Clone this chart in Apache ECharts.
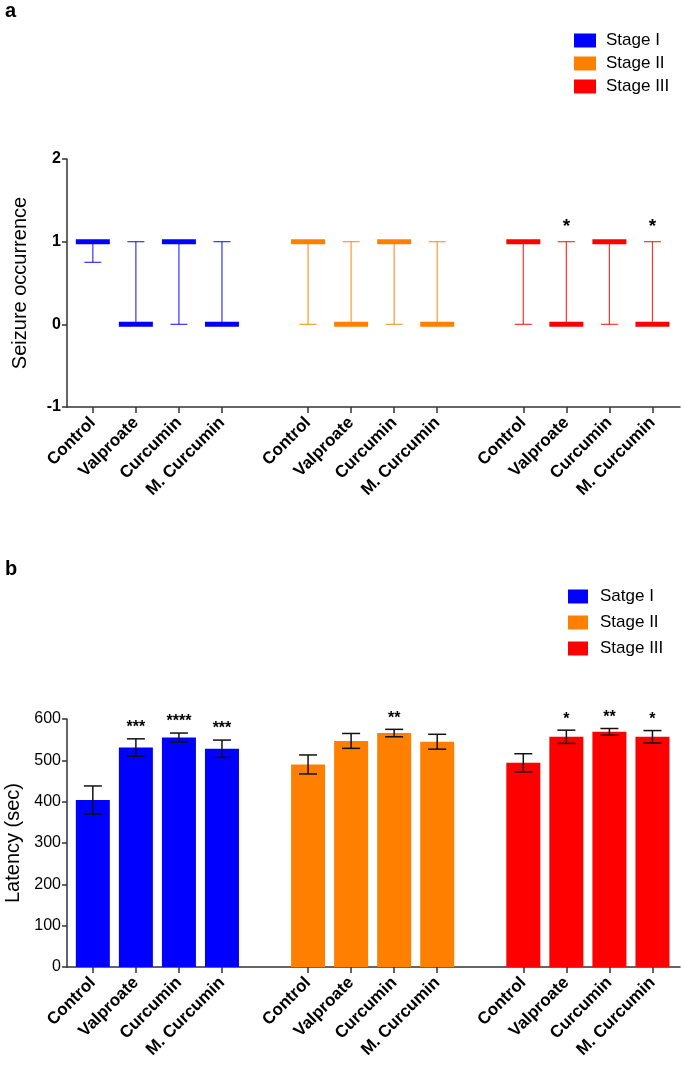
<!DOCTYPE html>
<html><head><meta charset="utf-8">
<script src="https://cdn.jsdelivr.net/npm/echarts@6/dist/echarts.min.js"></script>
<style>html,body{margin:0;padding:0;background:#fff}#c{width:685px;height:1067px}</style>
</head><body><div id="c"></div>
<script>
// ---------- data ----------
const treatments = ['Control', 'Valproate', 'Curcumin', 'M. Curcumin'];
const stagesA = ['Stage I', 'Stage II', 'Stage III'];
const stagesB = ['Satge I', 'Stage II', 'Stage III'];
const stageColors = ['#0000FF', '#FF8000', '#FF0000'];

// Panel a: seizure occurrence (centre line, lower whisker, upper whisker)
const occCentre = [[1, 0, 1, 0], [1, 0, 1, 0], [1, 0, 1, 0]];
const occLow    = [[0.75, 0, 0, 0], [0, 0, 0, 0], [0, 0, 0, 0]];
const occHigh   = [[1, 1, 1, 1], [1, 1, 1, 1], [1, 1, 1, 1]];
const occStars  = [['', '', '', ''], ['', '', '', ''], ['', '*', '', '*']];
const occTicks  = [-1, 0, 1, 2];

// Panel b: latency (sec), mean and SEM
const latMean  = [[404, 531, 555, 528], [490, 547, 566, 545], [494, 557, 569, 557]];
const latErr   = [[34, 21, 11, 21], [23, 18, 9, 18], [22, 16, 8, 15]];
const latStars = [['', '***', '****', '***'], ['', '', '**', ''], ['', '*', '**', '*']];
const latTicks = [0, 100, 200, 300, 400, 500, 600];

// ---------- helpers ----------
const slot = treatments.length + 1;              // one empty slot between groups
const pos = (g, i) => g * slot + i;
const tickPos = [];
for (let g = 0; g < 3; g++) for (let i = 0; i < treatments.length; i++) tickPos.push(pos(g, i));
const xMax = pos(2, treatments.length - 1) + 0.64;
const FONT = 'Liberation Sans, Arial, Helvetica, sans-serif';
const AX = '#333';

function xAxisCfg(gi) {
  return {
    type: 'value', gridIndex: gi, min: -0.6, max: xMax,
    axisLine: { show: true, onZero: false, lineStyle: { color: AX, width: 1.5 } },
    axisTick: { show: true, length: 6, customValues: tickPos, lineStyle: { color: AX, width: 1.5 } },
    axisLabel: {
      customValues: tickPos, rotate: 45, margin: 13,
      formatter: v => treatments[Math.round(v) % slot],
      fontWeight: 'bold', fontSize: 17, color: '#000', fontFamily: FONT
    },
    splitLine: { show: false }
  };
}
function yAxisCfg(gi, ticks, name, gap, bold) {
  return {
    type: 'value', gridIndex: gi, min: ticks[0], max: ticks[ticks.length - 1], interval: ticks[1] - ticks[0],
    name, nameLocation: 'middle', nameGap: gap,
    nameTextStyle: { fontSize: 20, color: '#000', fontFamily: FONT },
    axisLine: { show: true, onZero: false, lineStyle: { color: AX, width: 1.5 } },
    axisTick: { show: true, length: 5, lineStyle: { color: AX, width: 1.5 } },
    axisLabel: { fontSize: 16, fontWeight: bold ? 'bold' : 'normal', color: '#000', margin: 6, fontFamily: FONT },
    splitLine: { show: false }
  };
}

const series = [];
// Panel a: centre line with range
stagesA.forEach((name, s) => {
  series.push({
    type: 'custom', name, xAxisIndex: 0, yAxisIndex: 0,
    itemStyle: { color: stageColors[s] },
    data: treatments.map((t, i) => [pos(s, i), occCentre[s][i], occLow[s][i], occHigh[s][i]]),
    renderItem: (params, api) => {
      const x = api.value(0);
      const c = api.coord([x, api.value(1)]);
      const lo = api.coord([x, api.value(2)]);
      const hi = api.coord([x, api.value(3)]);
      const col = stageColors[s];
      const ln = { stroke: col, lineWidth: 1.2, opacity: 0.8 };
      const star = occStars[s][params.dataIndex];
      const ch = [
        { type: 'line', shape: { x1: lo[0], y1: lo[1], x2: hi[0], y2: hi[1] }, style: ln },
        { type: 'line', shape: { x1: lo[0] - 8.5, y1: lo[1], x2: lo[0] + 8.5, y2: lo[1] }, style: ln },
        { type: 'line', shape: { x1: hi[0] - 8.5, y1: hi[1], x2: hi[0] + 8.5, y2: hi[1] }, style: ln },
        { type: 'rect', shape: { x: c[0] - 17, y: c[1] - 2.5, width: 34, height: 5 }, style: { fill: col } }
      ];
      if (star) ch.push({ type: 'text', style: { text: star, x: hi[0], y: hi[1] - 5, align: 'center', verticalAlign: 'bottom', fill: '#000', fontSize: 19, fontWeight: 'bold', fontFamily: FONT } });
      return { type: 'group', children: ch };
    }
  });
});
// Panel b: bars with SEM error bars
stagesB.forEach((name, s) => {
  series.push({
    type: 'custom', name, xAxisIndex: 1, yAxisIndex: 1,
    itemStyle: { color: stageColors[s] },
    data: treatments.map((t, i) => [pos(s, i), latMean[s][i], latMean[s][i] - latErr[s][i], latMean[s][i] + latErr[s][i]]),
    renderItem: (params, api) => {
      const x = api.value(0);
      const top = api.coord([x, api.value(1)]);
      const base = api.coord([x, 0]);
      const lo = api.coord([x, api.value(2)]);
      const hi = api.coord([x, api.value(3)]);
      const ln = { stroke: '#111', lineWidth: 1.5 };
      const star = latStars[s][params.dataIndex];
      const ch = [
        { type: 'rect', shape: { x: top[0] - 17, y: top[1], width: 34, height: base[1] - top[1] }, style: { fill: stageColors[s] } },
        { type: 'line', shape: { x1: lo[0], y1: lo[1], x2: hi[0], y2: hi[1] }, style: ln },
        { type: 'line', shape: { x1: lo[0] - 9, y1: lo[1], x2: lo[0] + 9, y2: lo[1] }, style: ln },
        { type: 'line', shape: { x1: hi[0] - 9, y1: hi[1], x2: hi[0] + 9, y2: hi[1] }, style: ln }
      ];
      if (star) ch.push({ type: 'text', style: { text: star, x: hi[0], y: hi[1] - 3, align: 'center', verticalAlign: 'bottom', fill: '#000', fontSize: 16, fontWeight: 'bold', fontFamily: FONT } });
      return { type: 'group', children: ch };
    }
  });
});

const legendText = (pad) => ({ fontSize: 17, color: '#000', fontFamily: FONT, lineHeight: 14, padding: [0, 0, 0, pad] });

const option = {
  animation: false,
  backgroundColor: '#fff',
  textStyle: { fontFamily: FONT },
  graphic: [
    { type: 'text', left: 5, top: 1, style: { text: 'a', fontSize: 20, fontWeight: 'bold', fill: '#000', fontFamily: FONT } },
    { type: 'text', left: 5, top: 559, style: { text: 'b', fontSize: 20, fontWeight: 'bold', fill: '#000', fontFamily: FONT } }
  ],
  legend: [
    { data: stagesA, orient: 'vertical', left: 574, top: 32, padding: 0, itemWidth: 22, itemHeight: 14, itemGap: 6, icon: 'rect', selectedMode: false, textStyle: legendText(5) },
    { data: stagesB, orient: 'vertical', left: 568, top: 588, padding: 0, itemWidth: 20, itemHeight: 14, itemGap: 9, icon: 'rect', selectedMode: false, textStyle: legendText(7) }
  ],
  grid: [
    { left: 67, right: 5, top: 159, height: 248, containLabel: false, outerBoundsMode: 'none' },
    { left: 67, right: 5, top: 719, height: 248, containLabel: false, outerBoundsMode: 'none' }
  ],
  xAxis: [xAxisCfg(0), xAxisCfg(1)],
  yAxis: [
    yAxisCfg(0, occTicks, 'Seizure occurrence', 37, true),
    yAxisCfg(1, latTicks, 'Latency (sec)', 44, false)
  ],
  series
};
const chart = echarts.init(document.getElementById('c'), null, { renderer: 'canvas' });
chart.setOption(option);
</script>
</body></html>
